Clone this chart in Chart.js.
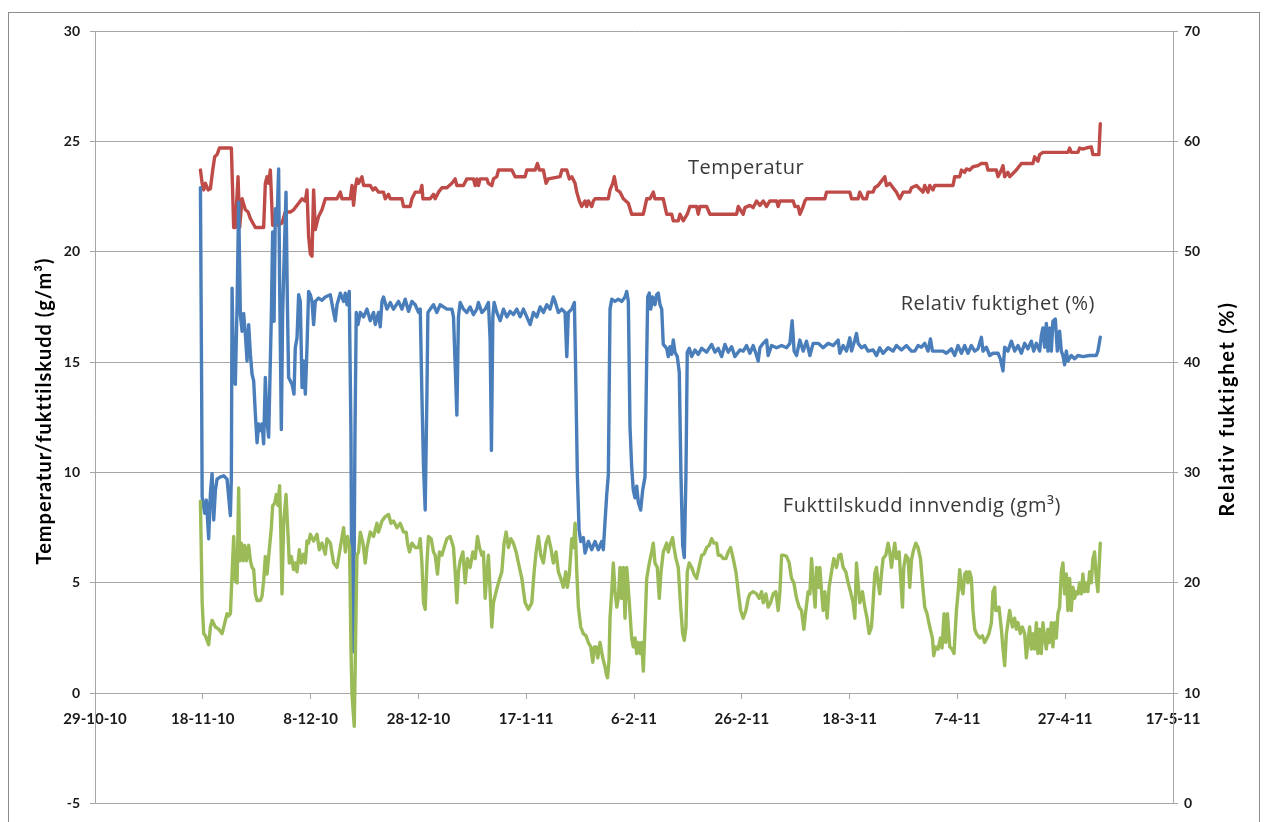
<!DOCTYPE html>
<html>
<head>
<meta charset="utf-8">
<title>Temperatur og fukt</title>
<script src="https://cdn.jsdelivr.net/npm/chart.js@4.4.1/dist/chart.umd.min.js"></script>
<style>
  html, body { margin: 0; padding: 0; background: #fff; }
</style>
</head>
<body>
<canvas id="myChart" width="1268" height="822"></canvas>
<script>
// x = days after 29-10-10, y = reading
const temperatur = [
  [19.56,23.7],[19.88,23.1],[20.17,22.8],[20.49,23.1],[20.99,22.8],[21.41,22.85],[21.84,23.7],[22.21,24.3],[22.65,24.4],[23.08,24.7],
  [25.30,24.7],[25.49,23.1],[25.73,21.1],[26.04,21.1],[26.54,23.4],[26.84,21.1],[27.29,22.4],[27.90,21.9],[28.40,21.8],[28.83,21.5],
  [29.75,21.1],[31.29,21.1],[31.60,23.1],[31.92,23.4],[32.22,23.1],[32.53,23.7],[32.96,21.2],[33.46,21.6],[33.96,21.2],[34.70,21.3],
  [35.31,21.8],[36.24,21.8],[36.85,21.9],[37.78,22.2],[38.41,22.4],[39.02,22.3],[39.33,22.8],[39.63,20.7],[39.95,19.9],[40.26,19.8],
  [40.56,22.8],[40.87,21.0],[41.48,21.6],[42.11,21.9],[42.73,22.4],[44.90,22.4],[45.51,22.7],[45.82,22.4],[47.36,22.4],[47.68,23.0],
  [47.97,22.1],[48.29,22.9],[48.60,23.3],[48.90,23.1],[49.53,23.4],[49.83,23.0],[51.07,23.0],[51.57,22.8],[52.00,22.9],[52.61,22.7],
  [53.53,22.7],[53.85,22.4],[54.46,22.6],[54.78,22.4],[56.94,22.4],[57.24,22.05],[58.48,22.05],[58.80,22.4],[59.41,22.7],[60.34,22.7],
  [60.65,23.0],[60.84,22.4],[62.19,22.4],[62.80,22.6],[63.12,22.4],[63.73,22.7],[64.36,22.9],[65.28,22.9],[66.21,23.1],[66.82,23.3],
  [67.14,23.0],[68.36,23.0],[68.99,23.3],[70.21,23.3],[70.53,23.0],[70.84,23.3],[71.14,23.0],[71.46,23.3],[72.70,23.3],[72.99,23.1],
  [73.62,23.0],[73.92,23.3],[74.55,23.4],[74.85,23.7],[77.33,23.7],[77.95,23.4],[79.80,23.4],[80.11,23.7],[81.65,23.7],[82.08,24.0],
  [82.45,23.7],[83.19,23.7],[83.69,23.1],[84.12,23.3],[86.29,23.4],[86.60,23.7],[87.53,23.7],[88.01,23.3],[88.46,23.4],[89.07,23.1],
  [89.38,22.7],[89.86,22.3],[90.31,22.05],[90.92,22.3],[91.23,22.05],[91.53,22.3],[92.16,22.05],[92.46,22.3],[92.77,22.4],[95.24,22.4],
  [95.55,22.8],[96.05,23.1],[96.35,23.4],[96.80,22.8],[97.41,22.7],[98.02,22.4],[98.95,22.2],[99.57,21.7],[101.73,21.7],[102.36,22.4],
  [102.97,22.4],[103.58,22.7],[103.89,22.4],[105.43,22.4],[106.06,21.7],[106.99,21.7],[107.29,21.4],[108.21,21.4],[108.53,21.7],[109.14,21.4],
  [109.88,21.7],[110.38,22.05],[111.62,22.05],[111.92,21.7],[112.24,22.05],[113.48,22.05],[114.09,21.7],[119.04,21.7],[119.34,22.05],[120.26,21.7],
  [120.58,22.0],[121.50,22.1],[122.11,22.0],[122.74,22.3],[123.36,22.1],[123.97,22.3],[124.60,22.05],[125.21,22.3],[126.45,22.3],[126.75,22.05],
  [127.07,22.3],[129.53,22.3],[129.85,22.05],[130.46,22.05],[130.77,21.7],[131.38,22.05],[131.70,22.3],[132.01,22.4],[135.41,22.4],[135.72,22.7],
  [140.04,22.7],[140.36,22.4],[141.58,22.4],[141.89,22.7],[142.50,22.4],[143.13,22.4],[143.43,22.7],[144.36,22.7],[144.67,22.9],[145.28,23.0],
  [145.91,23.2],[146.53,23.4],[146.84,23.0],[147.45,23.1],[148.06,22.9],[148.69,22.7],[149.31,22.4],[149.92,22.7],[151.16,22.7],[151.47,22.9],
  [152.40,23.0],[153.62,22.7],[153.94,23.0],[154.55,22.7],[154.87,23.0],[155.48,22.8],[155.79,23.0],[159.19,23.0],[159.50,23.4],[160.43,23.4],
  [160.75,23.7],[161.35,23.6],[161.67,23.75],[162.28,23.7],[162.89,23.85],[163.82,23.9],[164.45,24.0],[165.37,24.0],[165.67,23.7],[167.23,23.7],
  [167.53,23.4],[168.16,23.7],[168.46,23.9],[168.77,23.4],[169.38,23.6],[169.70,23.4],[170.94,23.7],[171.87,24.0],[174.02,24.0],[174.33,24.3],
  [174.95,24.1],[175.26,24.4],[175.87,24.5],[180.50,24.5],[180.82,24.7],[181.13,24.5],[182.36,24.5],[182.67,24.7],[183.28,24.65],[183.91,24.7],
  [184.84,24.75],[185.14,24.4],[186.25,24.4],[186.51,25.8]
];

const relativFuktighet = [
  [19.56,55.8],[19.78,38.0],[19.88,27.8],[20.36,26.3],[20.67,27.5],[21.09,24.0],[21.41,28.1],[21.72,29.9],[22.02,25.7],[22.34,28.4],
  [22.65,29.4],[23.27,29.6],[23.88,29.7],[24.50,29.4],[24.80,27.8],[25.12,26.1],[25.30,29.6],[25.43,46.7],[25.73,38.3],[26.04,38.0],
  [26.36,45.2],[26.65,54.5],[26.97,44.3],[27.29,42.8],[27.58,44.4],[27.90,42.5],[28.21,40.1],[28.51,43.4],[28.83,40.7],[29.14,38.9],
  [29.44,38.3],[29.75,35.3],[30.07,32.7],[30.36,34.4],[30.68,33.8],[30.99,34.4],[31.29,32.6],[31.60,38.6],[31.92,34.6],[32.22,33.2],
  [32.72,44.3],[32.96,51.8],[33.22,43.7],[33.46,53.9],[33.77,52.7],[34.07,57.5],[34.25,47.3],[34.57,33.9],[34.81,44.3],[35.07,49.1],
  [35.44,55.4],[35.68,45.8],[35.92,38.6],[36.55,38.0],[36.92,37.1],[37.16,41.3],[37.48,42.2],[37.78,46.1],[38.09,45.5],[38.41,37.7],
  [38.70,40.1],[39.02,37.1],[39.33,41.3],[39.63,46.4],[39.95,46.1],[40.26,45.5],[40.56,43.4],[40.87,45.5],[41.48,45.8],[42.11,45.6],
  [42.73,45.9],[43.66,46.1],[44.27,44.5],[44.58,43.75],[44.90,45.2],[45.51,46.25],[46.12,45.5],[46.44,46.25],[46.75,45.2],[47.17,46.4],
  [47.49,33.4],[47.68,14.1],[47.97,13.75],[48.23,33.4],[48.47,44.5],[48.79,43.4],[49.22,44.5],[49.83,44.1],[50.46,44.8],[51.07,43.75],
  [51.68,44.5],[52.00,43.4],[52.61,44.5],[52.92,43.2],[53.24,45.5],[53.53,45.9],[54.16,44.8],[54.78,45.4],[55.39,44.8],[56.31,45.5],
  [56.94,44.8],[57.55,45.7],[58.17,44.6],[58.80,45.5],[59.41,45.2],[60.02,44.5],[60.34,44.8],[60.65,37.0],[60.95,30.5],[61.26,26.6],
  [61.58,37.0],[61.76,44.5],[62.19,44.8],[62.80,45.2],[63.43,44.5],[64.04,45.2],[64.65,45.0],[65.28,44.8],[66.21,44.8],[66.51,44.1],
  [66.82,39.8],[67.14,35.2],[67.43,44.1],[67.75,45.4],[68.36,44.8],[68.99,44.5],[69.60,45.0],[70.21,44.3],[70.84,44.8],[71.14,45.4],
  [71.77,44.5],[72.38,44.8],[72.99,45.4],[73.31,42.0],[73.55,32.0],[73.81,44.1],[74.05,45.4],[74.55,44.5],[75.17,43.75],[75.78,44.8],
  [76.41,44.1],[77.02,44.6],[77.63,44.3],[78.26,44.8],[78.87,44.1],[79.48,44.8],[80.11,44.1],[80.73,43.4],[81.34,44.5],[81.97,44.1],
  [82.58,45.0],[83.19,44.5],[83.82,45.2],[84.43,44.8],[85.04,45.9],[85.36,45.5],[85.97,44.5],[86.60,44.8],[87.21,44.5],[87.53,40.5],
  [87.82,44.5],[88.45,44.8],[88.94,45.4],[89.19,38.75],[89.49,29.8],[89.81,24.8],[90.12,23.75],[90.60,24.1],[90.92,22.7],[91.53,23.75],
  [92.16,23.0],[92.77,23.75],[93.39,23.0],[94.01,23.75],[94.31,23.0],[94.62,25.5],[94.94,28.0],[95.24,29.8],[95.55,44.8],[95.87,45.7],
  [96.48,45.5],[97.09,45.7],[97.72,45.5],[98.33,45.9],[98.65,46.4],[98.95,45.5],[99.26,34.1],[99.57,30.5],[99.87,28.4],[100.19,27.7],
  [100.50,28.75],[100.80,27.3],[101.24,26.6],[101.61,28.4],[102.04,29.6],[102.36,40.5],[102.54,45.9],[102.84,46.25],[103.10,44.8],[103.47,45.9],
  [103.89,45.2],[104.21,46.1],[104.51,46.25],[104.82,45.2],[105.14,44.8],[105.43,41.6],[106.06,41.25],[106.36,40.5],[106.68,41.4],[106.99,40.7],
  [107.29,42.0],[107.60,40.9],[108.03,40.5],[108.40,39.1],[108.71,29.8],[109.03,23.4],[109.33,22.3],[109.64,29.8],[109.88,40.9],[110.25,41.25],
  [110.70,40.5],[111.31,41.1],[111.92,40.7],[112.55,41.25],[113.48,40.9],[114.40,41.6],[115.02,40.9],[115.63,41.25],[116.26,40.5],[116.87,41.6],
  [117.48,40.9],[118.11,41.4],[118.73,40.5],[119.65,41.1],[120.26,41.0],[120.89,41.5],[121.50,40.8],[122.11,41.5],[122.74,40.6],[123.04,40.1],
  [123.36,41.3],[123.97,41.7],[124.60,42.0],[124.89,40.6],[125.52,41.5],[126.45,41.3],[127.38,41.5],[128.30,41.3],[128.92,41.7],[129.34,43.75],
  [129.71,41.0],[130.16,40.6],[130.77,42.0],[131.38,41.0],[132.01,41.9],[132.63,40.6],[133.24,41.7],[134.17,41.7],[135.09,41.3],[136.02,41.7],
  [136.94,41.5],[137.87,42.0],[138.19,40.8],[138.80,41.5],[139.43,41.0],[140.04,42.2],[140.36,41.0],[140.97,42.0],[141.28,42.6],[141.58,41.7],
  [142.21,41.3],[142.82,41.5],[143.43,41.0],[144.36,41.1],[144.99,40.6],[145.60,41.3],[146.21,40.8],[147.14,41.3],[148.06,41.0],[148.69,41.5],
  [149.62,41.1],[150.55,41.5],[151.47,41.0],[152.09,41.0],[152.70,41.5],[153.33,41.35],[153.94,41.7],[154.55,41.0],[155.00,42.1],[155.37,41.0],
  [157.33,41.0],[157.96,40.8],[158.89,41.2],[159.50,40.6],[160.11,41.5],[160.74,40.8],[161.35,41.5],[161.96,40.8],[162.59,41.5],[163.21,41.0],
  [163.82,41.2],[164.45,42.25],[164.75,41.0],[165.37,41.35],[165.99,40.6],[166.60,40.8],[167.53,40.8],[167.97,40.3],[168.46,39.2],[168.77,41.35],
  [169.38,41.0],[170.01,41.9],[170.62,41.0],[171.24,41.5],[171.87,40.8],[172.48,41.7],[173.09,41.2],[173.72,41.9],[174.15,41.0],[174.65,41.7],
  [175.26,41.0],[175.57,42.4],[175.87,43.1],[176.19,41.35],[176.50,43.5],[176.80,41.0],[177.11,43.1],[177.43,41.0],[177.72,43.7],[178.17,43.9],
  [178.54,41.0],[178.96,42.8],[179.28,41.0],[179.58,40.6],[179.89,39.75],[180.21,41.0],[180.50,40.1],[181.13,40.6],[181.74,40.3],[182.36,40.6],
  [183.28,40.5],[184.53,40.6],[185.77,40.6],[186.07,41.0],[186.51,42.25]
];

const fukttilskudd = [
  [19.56,8.7],[19.88,4.1],[20.17,2.7],[20.49,2.6],[21.09,2.2],[21.41,3.0],[21.72,3.3],[22.34,3.0],[22.95,2.9],[23.58,2.7],
  [24.19,3.3],[24.50,3.6],[24.80,3.5],[25.12,3.6],[25.43,5.4],[25.73,7.1],[26.04,5.1],[26.36,5.0],[26.65,9.3],[26.84,6.0],
  [27.15,6.8],[27.47,6.0],[27.77,6.7],[28.08,6.0],[28.51,6.7],[28.83,6.0],[29.14,5.7],[29.44,5.6],[29.75,4.5],[30.07,4.2],
  [30.68,4.2],[30.99,4.4],[31.29,5.1],[31.60,6.2],[31.92,5.4],[32.22,6.2],[32.72,7.5],[32.96,8.5],[33.33,8.6],[33.64,9.0],
  [33.96,8.5],[34.25,9.4],[34.44,7.7],[34.70,4.5],[35.00,7.7],[35.44,9.0],[35.81,7.2],[36.05,5.9],[36.42,6.2],[36.85,5.6],
  [37.16,5.9],[37.48,5.5],[37.91,6.5],[38.28,5.9],[38.70,6.3],[39.02,5.9],[39.33,6.9],[39.63,6.8],[39.95,7.2],[40.56,6.9],
  [41.19,7.2],[41.61,6.5],[42.11,6.8],[42.73,6.3],[43.04,7.0],[43.66,6.8],[44.27,5.9],[44.90,5.7],[45.51,6.6],[46.12,7.5],
  [46.44,6.4],[46.86,7.1],[47.23,6.6],[47.49,2.0],[47.68,0.0],[47.86,-0.7],[48.10,-1.5],[48.34,2.3],[48.60,6.25],[48.90,6.4],
  [49.22,7.3],[49.72,6.8],[50.14,5.9],[50.46,6.6],[51.07,7.3],[51.68,7.1],[52.31,7.7],[52.61,7.3],[53.24,7.8],[53.85,8.0],
  [54.46,8.1],[54.91,7.7],[55.39,7.8],[56.02,7.5],[56.63,7.7],[57.24,7.3],[57.74,7.3],[57.98,6.8],[58.35,6.4],[58.80,6.8],
  [59.41,6.6],[60.02,6.6],[60.34,7.0],[60.65,5.9],[60.95,4.1],[61.26,3.8],[61.58,5.9],[61.87,7.1],[62.37,7.0],[62.80,6.4],
  [63.12,6.25],[63.54,5.4],[63.91,6.4],[64.36,6.25],[64.78,6.6],[65.28,7.0],[65.90,7.1],[66.51,6.6],[66.82,5.5],[67.14,4.1],
  [67.43,5.5],[67.75,6.0],[68.25,6.4],[68.68,5.0],[69.10,6.1],[69.60,5.7],[70.10,6.4],[70.53,6.1],[70.96,7.1],[71.33,6.6],
  [71.77,6.25],[72.07,6.4],[72.38,4.3],[72.70,5.4],[72.99,6.25],[73.31,4.6],[73.62,3.0],[73.92,4.1],[74.42,4.6],[74.85,5.0],
  [75.48,5.5],[75.90,6.8],[76.28,7.3],[76.70,6.6],[77.15,7.0],[77.63,6.8],[78.13,6.4],[78.56,5.9],[79.19,5.2],[79.80,4.1],
  [80.41,3.8],[81.04,4.1],[81.47,5.5],[81.84,6.4],[82.26,7.1],[82.71,6.25],[83.19,5.9],[83.69,6.8],[84.12,7.1],[84.56,6.6],
  [85.04,5.9],[85.54,6.4],[85.97,5.5],[86.41,5.2],[86.90,4.8],[87.34,5.5],[87.64,4.8],[88.01,5.4],[88.45,7.0],[88.75,6.6],
  [89.07,7.7],[89.38,5.5],[89.68,3.9],[90.12,3.0],[90.60,2.7],[91.10,2.6],[91.53,2.3],[91.97,2.1],[92.35,1.4],[92.64,2.1],
  [92.96,2.1],[93.27,1.6],[93.70,2.3],[94.20,1.6],[94.62,1.2],[94.94,0.8],[95.09,0.7],[95.37,1.5],[95.55,3.4],[95.87,4.6],
  [96.16,5.9],[96.48,4.6],[96.80,3.9],[97.09,4.3],[97.41,5.7],[97.72,4.3],[98.02,5.7],[98.33,3.4],[98.65,5.7],[99.13,4.1],
  [99.57,2.5],[99.87,2.1],[100.19,2.5],[100.50,1.8],[100.80,2.3],[101.12,1.8],[101.43,2.3],[101.73,1.0],[102.04,3.0],[102.36,5.2],
  [102.84,5.9],[103.28,6.4],[103.58,6.8],[103.89,5.9],[104.32,5.7],[104.69,4.3],[105.01,5.5],[105.43,6.4],[105.75,6.6],[106.06,6.8],
  [106.36,6.4],[106.80,6.8],[107.17,7.05],[107.42,6.6],[107.79,6.1],[108.21,5.7],[108.66,3.9],[109.03,2.7],[109.33,2.4],[109.64,3.0],
  [109.88,5.5],[110.25,5.9],[110.70,5.7],[111.12,5.4],[111.62,5.2],[112.05,5.7],[112.55,6.25],[112.98,6.3],[113.48,6.6],[113.96,6.7],
  [114.40,7.0],[114.83,6.8],[115.33,6.8],[115.63,6.25],[116.07,6.25],[116.55,6.1],[117.05,6.1],[117.48,6.4],[117.93,6.6],[118.41,6.1],
  [118.91,5.5],[119.34,4.6],[119.78,3.75],[120.26,3.4],[120.76,3.75],[121.19,4.3],[121.50,4.5],[122.11,4.6],[122.74,4.5],[123.23,4.3],
  [123.67,4.6],[123.97,4.1],[124.47,4.5],[124.89,3.9],[125.34,4.1],[125.82,4.5],[126.32,4.6],[126.75,3.75],[127.07,4.6],[127.38,6.25],
  [127.81,6.25],[128.30,6.2],[128.79,5.9],[129.23,5.2],[129.66,5.0],[130.16,4.3],[130.64,3.9],[131.08,3.75],[131.51,2.9],[131.88,3.75],
  [132.31,4.6],[132.63,4.5],[132.94,6.1],[133.24,5.0],[133.61,3.9],[133.87,5.7],[134.24,4.8],[134.48,5.7],[134.80,4.6],[135.09,3.75],
  [135.41,4.6],[135.83,3.4],[136.20,4.8],[136.65,5.5],[137.07,6.1],[137.57,5.7],[138.00,6.25],[138.37,6.3],[138.80,5.7],[139.30,5.5],
  [139.73,5.0],[140.17,4.6],[140.65,4.1],[140.97,3.4],[141.28,5.9],[141.58,5.0],[141.89,4.1],[142.39,4.6],[142.82,3.9],[143.24,3.4],
  [143.62,2.7],[144.06,3.0],[144.36,4.1],[144.67,5.4],[144.99,5.7],[145.28,5.0],[145.60,4.5],[145.91,5.4],[146.21,6.1],[146.71,6.25],
  [147.14,6.8],[147.45,6.4],[147.77,5.7],[148.06,6.25],[148.38,6.8],[148.69,6.1],[149.18,6.4],[149.44,5.4],[149.81,3.9],[150.05,5.7],
  [150.42,6.25],[150.85,6.1],[151.16,4.8],[151.47,6.0],[151.77,6.4],[152.27,6.8],[152.70,6.6],[153.15,6.1],[153.52,5.0],[153.94,3.9],
  [154.37,3.6],[154.87,3.0],[155.37,2.5],[155.61,1.7],[155.98,2.1],[156.41,2.0],[156.85,2.5],[157.15,2.05],[157.52,3.6],[157.84,2.3],
  [158.15,3.6],[158.58,2.1],[159.00,2.0],[159.37,1.8],[159.82,3.75],[160.11,4.5],[160.43,5.6],[160.74,4.8],[161.04,4.5],[161.35,5.4],
  [161.67,5.5],[161.96,5.0],[162.28,5.5],[162.59,5.2],[162.89,3.75],[163.21,2.9],[163.52,2.7],[164.14,2.5],[164.64,2.6],[165.06,2.3],
  [165.49,2.5],[165.86,2.7],[166.31,3.2],[166.60,4.6],[166.92,4.8],[167.10,3.75],[167.34,3.75],[167.71,3.9],[168.16,2.9],[168.46,2.0],
  [168.77,1.25],[169.09,2.7],[169.38,3.2],[169.70,3.75],[170.20,3.0],[170.62,3.4],[170.94,2.9],[171.24,3.2],[171.68,2.7],[172.05,3.0],
  [172.48,2.7],[172.79,1.6],[173.09,2.3],[173.40,3.0],[173.72,2.0],[174.02,2.7],[174.33,2.0],[174.65,3.2],[174.95,1.8],[175.26,2.9],
  [175.57,1.8],[175.87,3.2],[176.19,2.5],[176.50,2.0],[176.80,2.9],[177.11,2.3],[177.43,3.2],[177.72,2.1],[178.04,3.2],[178.35,2.5],
  [178.65,3.6],[178.96,3.9],[179.28,5.5],[179.58,5.9],[179.89,4.5],[180.21,5.4],[180.50,3.75],[180.82,5.2],[181.13,3.75],[181.43,4.8],
  [181.74,4.3],[182.06,4.6],[182.36,4.5],[182.67,5.0],[182.99,4.5],[183.28,5.4],[183.60,4.6],[183.91,5.0],[184.21,4.6],[184.53,5.5],
  [184.84,5.0],[185.14,6.1],[185.45,6.4],[185.77,5.2],[186.07,4.6],[186.51,6.8]
];

const xTickLabels = ['29-10-10', '18-11-10', '8-12-10', '28-12-10', '17-1-11', '6-2-11',
                     '26-2-11', '18-3-11', '7-4-11', '27-4-11', '17-5-11'];

const grey = '#a6a6a6';
const yTickFont = { family: 'Lato', weight: 'bold', size: 14 };
const xTickFont = { family: 'Lato', weight: 'bold', size: 15 };

// white page, outer frame, axis titles and the three series captions
const frame = {
  id: 'frame',
  beforeDraw(chart) {
    const c = chart.ctx;
    c.save();
    c.fillStyle = '#fff';
    c.fillRect(0, 0, chart.width, chart.height);
    c.strokeStyle = '#8c8c8c';
    c.lineWidth = 1;
    c.strokeRect(8.5, 12.5, 1251, 830);
    c.restore();
  },
  afterDraw(chart) {
    const c = chart.ctx;
    const xs = chart.scales.x, ys = chart.scales.y;
    c.save();
    c.textAlign = 'center';
    c.textBaseline = 'middle';

    c.fillStyle = '#000';
    c.font = 'bold 20px Lato';
    c.letterSpacing = '1px';
    c.save(); c.translate(45, 411); c.rotate(-Math.PI / 2);
    c.fillText('Temperatur/fukttilskudd (g/m³)', 0, 0);
    c.restore();
    c.letterSpacing = '1.7px';
    c.save(); c.translate(1228, 409); c.rotate(-Math.PI / 2);
    c.fillText('Relativ fuktighet (%)', 0, 0);
    c.restore();

    c.fillStyle = '#3a3a3a';
    c.font = '20px "Open Sans"';
    c.letterSpacing = '0.5px';
    c.fillText('Temperatur', xs.getPixelForValue(120.8), ys.getPixelForValue(23.8));
    c.fillText('Relativ fuktighet (%)', xs.getPixelForValue(167.5), ys.getPixelForValue(17.6));
    c.fillText('Fukttilskudd innvendig (gm³)', xs.getPixelForValue(153.4), ys.getPixelForValue(8.45));
    c.restore();
  }
};

const toXY = arr => arr.map(p => ({ x: p[0], y: p[1] }));

new Chart('myChart', {
  type: 'line',
  data: {
    datasets: [
      { label: 'Fukttilskudd innvendig (gm³)', data: toXY(fukttilskudd), borderColor: '#9bbb59', yAxisID: 'y' },
      { label: 'Relativ fuktighet (%)', data: toXY(relativFuktighet), borderColor: '#4a7ebb', yAxisID: 'y1' },
      { label: 'Temperatur', data: toXY(temperatur), borderColor: '#be4b48', yAxisID: 'y' }
    ]
  },
  options: {
    responsive: false,
    animation: false,
    devicePixelRatio: 1,
    layout: { padding: { top: 31, bottom: 15, left: 0, right: 0 } },
    elements: {
      point: { radius: 0 },
      line: { borderWidth: 3.4, tension: 0, borderJoinStyle: 'round', borderCapStyle: 'round' }
    },
    plugins: { legend: { display: false }, tooltip: { enabled: false } },
    scales: {
      x: {
        type: 'linear',
        position: { y: 0 },
        min: 0,
        max: 200,
        grid: { drawOnChartArea: false, drawTicks: true, tickLength: 5, color: grey },
        border: { color: grey, width: 1 },
        ticks: {
          stepSize: 20, autoSkip: false, maxRotation: 0, padding: 12,
          font: xTickFont, color: '#1a1a1a',
          callback: (v, i) => xTickLabels[i]
        }
      },
      y: {
        position: 'left',
        min: -5,
        max: 30,
        afterFit: s => { s.width = 95; },
        grid: { color: grey, tickLength: 5 },
        border: { color: grey, width: 1 },
        ticks: { stepSize: 5, padding: 10, font: yTickFont, color: '#1a1a1a' }
      },
      y1: {
        position: 'right',
        min: 0,
        max: 70,
        afterFit: s => { s.width = 95; },
        grid: { drawOnChartArea: false, color: grey, tickLength: 5 },
        border: { color: grey, width: 1 },
        ticks: { stepSize: 10, padding: 6, font: yTickFont, color: '#1a1a1a' }
      }
    }
  },
  plugins: [frame]
});
</script>
</body>
</html>
